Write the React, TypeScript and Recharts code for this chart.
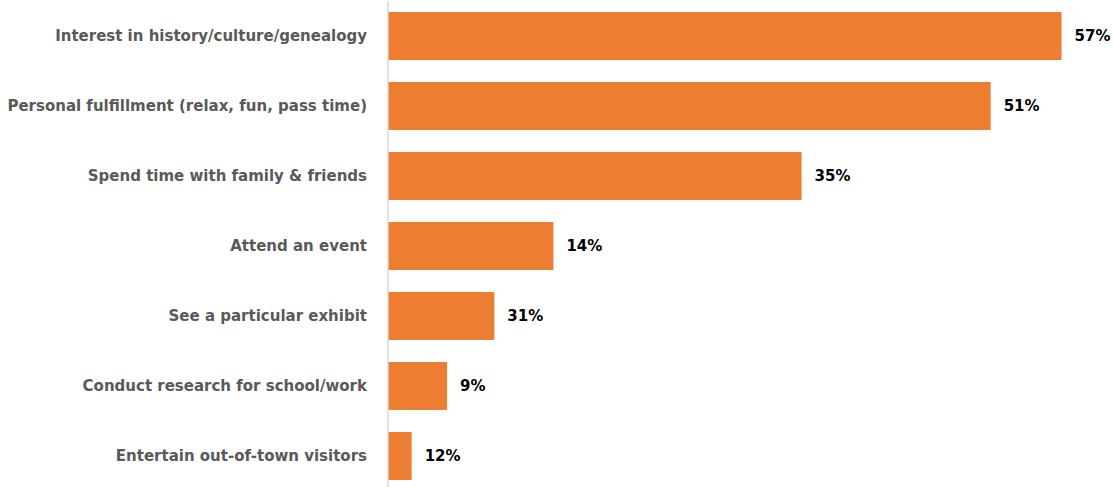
import React from "react";
import { BarChart, Bar, XAxis, YAxis, LabelList } from "recharts";

const categories = [
  "Interest in history/culture/genealogy",
  "Personal fulfillment (relax, fun, pass time)",
  "Spend time with family & friends",
  "Attend an event",
  "See a particular exhibit",
  "Conduct research for school/work",
  "Entertain out-of-town visitors",
];
// bar lengths as drawn in the picture
const barValues = [57, 51, 35, 14, 9, 5, 2];
// value labels as printed in the picture
const valueLabels = ["57%", "51%", "35%", "14%", "31%", "9%", "12%"];

const data = categories.map((c, i) => ({ category: c, value: barValues[i], label: valueLabels[i] }));

export default function App() {
  return (
    <div style={{ position: "absolute", left: 0, top: 0, width: 1114, height: 487, overflow: "hidden", background: "#fff" }}>
      <BarChart
        width={1114}
        height={491}
        data={data}
        layout="vertical"
        margin={{ top: 1, right: 17, bottom: 0, left: 0 }}
        barSize={48}
      >
        <XAxis type="number" domain={[0, 60]} hide />
        <YAxis
          type="category"
          dataKey="category"
          width={388}
          tickLine={false}
          tickSize={0}
          tickMargin={21}
          axisLine={{ stroke: "#d9d9d9", strokeWidth: 1.5 }}
          interval={0}
          tick={{ fill: "#595959", fontSize: 15, fontWeight: "bold", fontFamily: "DejaVu Sans" }}
        />
        <Bar dataKey="value" fill="#ED7D31" isAnimationActive={false}>
          <LabelList
            dataKey="label"
            position="right"
            offset={13}
            style={{ fill: "#000", fontSize: 15, fontWeight: "bold", fontFamily: "DejaVu Sans" }}
          />
        </Bar>
      </BarChart>
    </div>
  );
}
